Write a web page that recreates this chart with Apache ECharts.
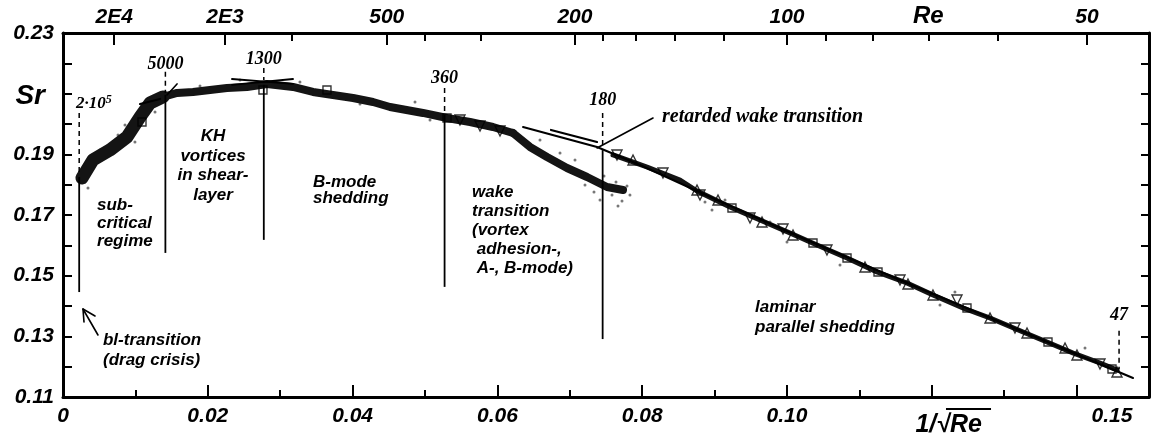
<!DOCTYPE html>
<html>
<head>
<meta charset="utf-8">
<script src="https://cdn.jsdelivr.net/npm/echarts@6/dist/echarts.min.js"></script>
<style>
  html, body { margin: 0; padding: 0; background: #fff; }
  #chart { width: 1152px; height: 443px; }
</style>
</head>
<body>
<div id="chart"></div>
<script>
// x = 1/sqrt(Re), y = Strouhal number Sr

// measured data cloud, centre lines of the scatter band
const subcriticalBand = [[0.00262,0.1822],[0.00414,0.18814],[0.00649,0.19144],[0.00884,0.19572],[0.01064,0.20232],[0.01202,0.20693],[0.01381,0.20891]];
const plateauBand = [[0.01381,0.20891],[0.01575,0.21023],[0.01796,0.21056],[0.02030,0.21122],[0.02265,0.21188],[0.02541,0.21221],[0.02818,0.21320],[0.03177,0.21221],[0.03453,0.21056],[0.03729,0.20957],[0.04006,0.20858],[0.04282,0.20726],[0.04517,0.20561],[0.04972,0.20364],[0.05304,0.20199],[0.05622,0.20067],[0.05939,0.19902],[0.06215,0.19704]];
const wakeBand = [[0.06215,0.19704],[0.06450,0.19243],[0.06685,0.18913],[0.06961,0.18550],[0.07238,0.18253],[0.07514,0.17924],[0.07735,0.17825]];
const laminarBand = [[0.07597,0.18979],[0.08066,0.18583],[0.08522,0.18154],[0.08757,0.17792],[0.09213,0.17264],[0.09627,0.16836],[0.10041,0.16407],[0.10414,0.16011],[0.10829,0.15583],[0.11243,0.15121],[0.11657,0.14759],[0.12017,0.14363],[0.12431,0.13934],[0.12804,0.13605],[0.13260,0.13143],[0.13591,0.12813],[0.13950,0.12451],[0.14323,0.12121],[0.14558,0.11890]];

// loose single readings around the band
const scatterPoints = [[0.07417,0.17495],[0.07583,0.17660],[0.07638,0.18089],[0.07721,0.17462],[0.07790,0.17957],[0.07831,0.17660],[0.07472,0.18286],[0.07334,0.17759],[0.07210,0.17990],[0.07666,0.17297],[0.07072,0.18814],[0.06865,0.19045],[0.06588,0.19474],[0.08867,0.17429],[0.08964,0.17165],[0.09144,0.17495],[0.10000,0.16110],[0.09765,0.16770],[0.12113,0.14033],[0.12320,0.14462],[0.10732,0.15352],[0.14116,0.12616],[0.00373,0.18484],[0.00511,0.19144],[0.00760,0.19638],[0.00994,0.19407],[0.00856,0.19968],[0.01271,0.20396],[0.01892,0.21254],[0.02445,0.21452],[0.03273,0.21386],[0.04102,0.20660],[0.04862,0.20726],[0.05069,0.20133],[0.00345,0.17891]];

// individual runs plotted with symbols
const triangleUpPoints = [[0.09047,0.17495],[0.09655,0.16770],[0.10083,0.16341],[0.11077,0.15286],[0.11671,0.14726],[0.12016,0.14363],[0.12804,0.13605],[0.13315,0.13110],[0.13840,0.12616],[0.14005,0.12385],[0.14558,0.11824],[0.07873,0.18814],[0.08757,0.17825]];
const triangleDownPoints = [[0.08798,0.17660],[0.09489,0.16902],[0.09945,0.16539],[0.10552,0.15847],[0.11561,0.14857],[0.12348,0.14198],[0.13149,0.13275],[0.14323,0.12088],[0.07652,0.18979],[0.08287,0.18385],[0.05483,0.20133],[0.05760,0.19935],[0.06036,0.19770]];
const squarePoints = [[0.09240,0.17231],[0.10359,0.16077],[0.10829,0.15583],[0.11257,0.15121],[0.12486,0.13934],[0.13605,0.12813],[0.14489,0.11923],[0.02762,0.21122],[0.03646,0.21122],[0.01091,0.20067],[0.05304,0.20199]];

// fitted laminar curve and tangent constructions
const laminarFit = [[0.06354,0.19902],[0.06865,0.19572],[0.07376,0.19243],[0.07970,0.18649],[0.08757,0.17792],[0.10180,0.16275],[0.11561,0.14857],[0.12942,0.13473],[0.14779,0.11626]];
const retardedTangent = [[0.06740,0.19803],[0.07376,0.19408]];
const retardedLeader = [[0.07376,0.19210],[0.08149,0.20199]];
const tangent1300a = [[0.02334,0.21484],[0.03177,0.21320]];
const tangent1300b = [[0.02334,0.21287],[0.03177,0.21484]];
const tangent5000a = [[0.01064,0.20660],[0.01340,0.20825]];
const tangent5000b = [[0.01436,0.20957],[0.01575,0.21320]];
const blArrowShaft = [[0.00483,0.13044],[0.00276,0.13901]];
const blArrowHead = [[0.00290,0.13473],[0.00276,0.13901],[0.00442,0.13671]];

// regime boundaries (Re), dashed lead-in and solid divider extents in Sr
const boundaryRe = [200000, 5000, 1300, 360, 180, 47];
const boundaryDashTop = [0.2036, 0.2172, 0.2185, 0.2119, 0.2036, 0.1318];
const boundaryDashBottom = [0.1832, 0.2102, 0.2145, 0.2040, 0.1924, 0.1192];
const boundarySolidTop = [0.1825, 0.2096, 0.2129, 0.2030, 0.1914, null];
const boundarySolidBottom = [0.1446, 0.1575, 0.1618, 0.1463, 0.1291, null];
const boundaryLabelSr = [0.2066, 0.2198, 0.2214, 0.2152, 0.2079, 0.1370];
const boundaryLabels = ['2·10', '5000', '1300', '360', '180', '47'];

// Reynolds-number scale on the upper axis
const reMajorTicks = [20000, 2000, 500, 200, 100, 50];
const reMinorTicks = [1000, 400, 300, 180, 160, 140, 120, 90, 80, 70, 60];
const reLabelValues = [20000, 2000, 500, 200, 100, 70, 50];
const reLabelTexts = ['2E4', '2E3', '500', '200', '100', 'Re', '50'];

// lower axis labels
const xLabelValues = [0, 0.02, 0.04, 0.06, 0.08, 0.10, 0.15];
const xLabelTexts = ['0', '0.02', '0.04', '0.06', '0.08', '0.10', '0.15'];
// left axis labels
const yLabelValues = [0.11, 0.13, 0.15, 0.17, 0.19, 0.21, 0.23];
const yLabelTexts = ['0.11', '0.13', '0.15', '0.17', '0.19', 'Sr', '0.23'];

const INK = '#000';
const SANS = "'Liberation Sans', Arial, sans-serif";
const SERIF = "'Liberation Serif', 'Times New Roman', serif";
const toX = re => 1 / Math.sqrt(re);
const W = 1152, H = 443;

function nearestText(v, values, texts, tol) {
  for (let i = 0; i < values.length; i++) {
    if (Math.abs(values[i] - v) < tol) return texts[i];
  }
  return '';
}

const labelFont = { color: INK, fontFamily: SANS, fontSize: 21, fontWeight: 'bold', fontStyle: 'italic' };

function lineSeries(data, width, extra) {
  return Object.assign({
    type: 'line', data: data, symbol: 'none', silent: true, clip: false,
    lineStyle: { color: INK, width: width, cap: 'round', join: 'round' }, z: 3
  }, extra || {});
}
const bandStyle = w => ({ lineStyle: { color: '#141414', width: w, cap: 'round', join: 'round' }, z: 2 });

const series = [];
series.push(lineSeries(plateauBand, 8, bandStyle(8)));
series.push(lineSeries(subcriticalBand, 13, bandStyle(13)));
series.push(lineSeries(wakeBand, 8, bandStyle(8)));
series.push(lineSeries(laminarBand, 5, bandStyle(5)));
series.push({
  type: 'scatter', data: scatterPoints, symbol: 'circle', symbolSize: 3, silent: true,
  itemStyle: { color: '#555' }, z: 1
});
series.push(lineSeries(laminarFit, 2));
series.push(lineSeries(retardedTangent, 2.2));
series.push(lineSeries(retardedLeader, 1.6));
series.push(lineSeries(tangent1300a, 1.8));
series.push(lineSeries(tangent1300b, 1.8));
series.push(lineSeries(tangent5000a, 2.2));
series.push(lineSeries(tangent5000b, 1.6));
series.push(lineSeries(blArrowShaft, 1.6));
series.push(lineSeries(blArrowHead, 1.6));

boundaryRe.forEach((re, i) => {
  const x = toX(re);
  series.push(lineSeries([[x, boundaryDashTop[i]], [x, boundaryDashBottom[i]]], 1.5,
    { lineStyle: { color: INK, width: 1.5, type: [5, 4] } }));
  if (boundarySolidTop[i] !== null) {
    series.push(lineSeries([[x, boundarySolidTop[i]], [x, boundarySolidBottom[i]]], 1.8,
      { lineStyle: { color: INK, width: 1.8 } }));
  }
});

const markerStyle = { color: 'rgba(255,255,255,0)', borderColor: INK, borderWidth: 1.4 };
series.push({ type: 'scatter', data: triangleUpPoints, symbol: 'triangle', symbolSize: 10, itemStyle: markerStyle, silent: true, z: 5 });
series.push({ type: 'scatter', data: triangleDownPoints, symbol: 'triangle', symbolRotate: 180, symbolSize: 10, itemStyle: markerStyle, silent: true, z: 5 });
series.push({ type: 'scatter', data: squarePoints, symbol: 'rect', symbolSize: 8, itemStyle: markerStyle, silent: true, z: 5 });

const gridBox = { left: 63, right: 3, top: 33, bottom: 46, containLabel: false, outerBoundsMode: 'none' };
const frameLine = () => ({ show: true, onZero: false, lineStyle: { color: INK, width: 3 } });
const tickStyle = () => ({ color: INK, width: 2 });

const option = {
  animation: false,
  backgroundColor: '#fff',
  grid: [Object.assign({}, gridBox), Object.assign({}, gridBox)],
  xAxis: [
    {
      gridIndex: 0, type: 'value', position: 'bottom', min: 0, max: 0.15, interval: 0.02,
      axisLine: frameLine(),
      axisTick: { show: true, inside: true, length: 12, lineStyle: tickStyle() },
      axisLabel: Object.assign({
        show: true, interval: 0, showMinLabel: true, showMaxLabel: true, margin: 9,
        formatter: v => {
          const t = nearestText(v, xLabelValues, xLabelTexts, 1e-6);
          return t === '0.15' ? '{end|0.15}' : t;
        },
        rich: { end: Object.assign({ padding: [0, 74, 0, 0] }, labelFont) }
      }, labelFont),
      splitLine: { show: false }
    },
    {
      gridIndex: 0, type: 'value', position: 'top', min: 0, max: 0.15,
      axisLine: frameLine(),
      axisTick: { show: true, inside: true, length: 12, customValues: reMajorTicks.map(toX), lineStyle: tickStyle() },
      axisLabel: Object.assign({
        show: true, margin: 5, customValues: reLabelValues.map(toX),
        formatter: v => {
          const t = nearestText(v, reLabelValues.map(toX), reLabelTexts, 1e-6);
          return t === 'Re' ? '{re|Re}' : t;
        },
        rich: { re: Object.assign({}, labelFont, { fontSize: 24 }) }
      }, labelFont),
      splitLine: { show: false }
    },
    {
      gridIndex: 1, type: 'value', position: 'bottom', min: 0, max: 0.15, interval: 0.01,
      axisLine: { show: false },
      axisTick: { show: true, inside: true, length: 7, lineStyle: tickStyle() },
      axisLabel: { show: false }, splitLine: { show: false }
    },
    {
      gridIndex: 1, type: 'value', position: 'top', min: 0, max: 0.15,
      axisLine: { show: false },
      axisTick: { show: true, inside: true, length: 8, customValues: reMinorTicks.map(toX), lineStyle: tickStyle() },
      axisLabel: { show: false }, splitLine: { show: false }
    }
  ],
  yAxis: [
    {
      gridIndex: 0, type: 'value', position: 'left', min: 0.11, max: 0.23, interval: 0.01,
      axisLine: frameLine(),
      axisTick: { show: true, inside: true, length: 9, lineStyle: tickStyle() },
      axisLabel: Object.assign({
        show: true, margin: 9, showMinLabel: true, showMaxLabel: true,
        formatter: v => {
          const t = nearestText(v, yLabelValues, yLabelTexts, 1e-6);
          return t === 'Sr' ? '{sr|Sr}' : t;
        },
        rich: { sr: Object.assign({}, labelFont, { fontSize: 28, padding: [6, 9, 0, 0] }) }
      }, labelFont),
      splitLine: { show: false }
    },
    {
      gridIndex: 0, type: 'value', position: 'right', min: 0.11, max: 0.23, interval: 0.01,
      axisLine: frameLine(),
      axisTick: { show: true, inside: true, length: 8, lineStyle: tickStyle() },
      axisLabel: { show: false }, splitLine: { show: false }
    },
    { gridIndex: 1, type: 'value', show: false, min: 0.11, max: 0.23 }
  ],
  series: series
};

// a detached instance with the same layout converts annotation anchors to pixels
const probe = echarts.init(document.createElement('div'), null, { width: W, height: H });
probe.setOption({
  animation: false,
  grid: Object.assign({}, gridBox),
  xAxis: { type: 'value', min: 0, max: 0.15 },
  yAxis: { type: 'value', min: 0.11, max: 0.23 },
  series: [{ type: 'line', data: [] }]
});
const px = (x, y) => probe.convertToPixel({ seriesIndex: 0 }, [x, y]);

const regionFont = "italic bold 17px " + SANS;
const numFont = "italic bold 18px " + SERIF;

function textEl(x, y, text, font, align, vAlign, lh, extra) {
  const p = px(x, y);
  return {
    type: 'text', x: p[0], y: p[1], silent: true, z: 10,
    style: Object.assign({
      text: text, font: font, fill: INK,
      align: align, textAlign: align, verticalAlign: vAlign, textVerticalAlign: vAlign,
      lineHeight: lh
    }, extra || {})
  };
}

const graphics = [];
const regionTexts = [
  ['sub-\ncritical\nregime', 0.00470, 0.1763, 'left', 18],
  ['KH\nvortices\nin shear-\nlayer', 0.02072, 0.1990, 'center', 19.5],
  ['B-mode\nshedding', 0.03453, 0.1835, 'left', 16],
  ['wake\ntransition\n(vortex\n adhesion-,\n A-, B-mode)', 0.05649, 0.1807, 'left', 19],
  ['laminar\nparallel shedding', 0.09558, 0.1430, 'left', 20],
  ['bl-transition\n(drag crisis)', 0.00552, 0.1321, 'left', 20]
];
regionTexts.forEach(r => graphics.push(textEl(r[1], r[2], r[0], regionFont, r[3], 'top', r[4])));

graphics.push(textEl(0.08274, 0.20232, 'retarded wake transition', "italic bold 20px " + SERIF, 'left', 'middle', 22));

boundaryRe.forEach((re, i) => {
  if (i === 0) {
    // 2·10^5 with raised exponent
    graphics.push(textEl(0.0018, boundaryLabelSr[i], '{b|2·10}{s|5}', numFont, 'left', 'middle', 20, {
      rich: {
        b: { font: "italic bold 17px " + SERIF, fill: INK },
        s: { font: "italic bold 12px " + SERIF, fill: INK, padding: [0, 0, 9, 0] }
      }
    }));
  } else {
    graphics.push(textEl(toX(re), boundaryLabelSr[i], boundaryLabels[i], numFont, 'center', 'middle', 20));
  }
});

// lower axis title 1/sqrt(Re)
const titleFont = "italic bold 25px " + SANS;
graphics.push(textEl(0.12251, 0.10077, '1/√', titleFont, 'right', 'middle', 26));
graphics.push(textEl(0.12251, 0.10077, 'Re', titleFont, 'left', 'middle', 26));
const ol1 = px(0.12196, 0.10604), ol2 = px(0.12818, 0.10604);
graphics.push({ type: 'line', silent: true, z: 10, shape: { x1: ol1[0], y1: ol1[1], x2: ol2[0], y2: ol2[1] }, style: { stroke: INK, lineWidth: 2 } });
probe.dispose();

option.graphic = { elements: graphics };

const chart = echarts.init(document.getElementById('chart'), null, { renderer: 'canvas' });
chart.setOption(option);
</script>
</body>
</html>
